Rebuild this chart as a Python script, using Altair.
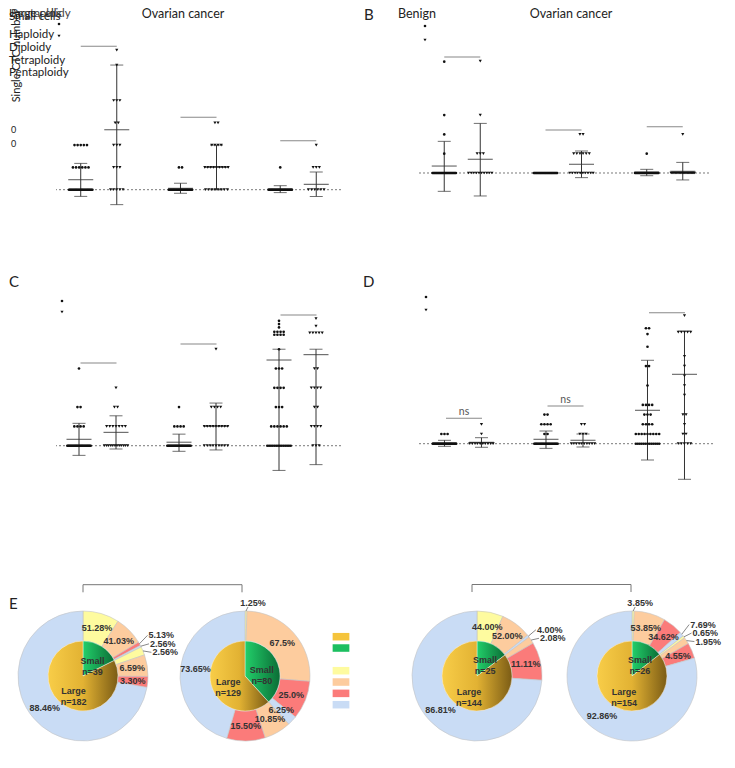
import math
import altair as alt
import pandas as pd

GROUPS = ["Group 1", "Group 2", "Group 3"]
MEMBERS = ["Small cells", "Large cells"]
LEGEND_ITEMS = ["Large cells", "Small cells", "Haploidy", "Diploidy", "Tetraploidy", "Pentaploidy"]
PLOIDY = LEGEND_ITEMS[2:]
COLORS = ["#f5c43c", "#1cbf60", "#fefb9f", "#fdcc9e", "#fb7b7a", "#c9dcf5"]

# ---------------- Panel A (columns: g1 small, g1 large, g2 small, g2 large, g3 small, g3 large)
A_values = [
    [0] * 28 + [1] * 6 + [2] * 5,
    [0] * 5 + [1] * 3 + [2] * 3 + [3] * 2 + [4] * 3 + [5.59, 6.26],
    [0] * 28 + [1] * 2,
    [0] * 8 + [1] * 9 + [2] * 4 + [3] * 2,
    [0] * 28 + [1],
    [0] * 6 + [1] * 3 + [2],
]
A_mean = [0.45, 2.69, 0.06, 1.00, 0.03, 0.24]
A_low = [-0.30, -0.67, -0.16, 0.00, -0.13, -0.30]
A_high = [1.18, 5.59, 0.29, 2.00, 0.18, 0.79]
A_sig = [6.43, 3.25, 2.20]
A_sig_text = ["", "", ""]

# ---------------- Panel B
B_values = [
    [0] * 28 + [1, 2, 3, 5.77],
    [0] * 10 + [1] * 3 + [3, 5.8],
    [0] * 28,
    [0] * 10 + [1] * 6 + [2] * 2,
    [0] * 25 + [1],
    [0] * 25 + [2],
]
B_mean = [0.36, 0.71, 0.00, 0.45, 0.05, 0.09]
B_low = [-0.95, -1.19, 0.00, -0.24, -0.14, -0.36]
B_high = [1.64, 2.57, 0.00, 1.14, 0.19, 0.55]
B_sig = [6.01, 2.23, 2.40]
B_sig_text = ["", "", ""]

# ---------------- Panel C
C_values = [
    [0] * 28 + [1] * 4 + [2] * 2 + [4],
    [0] * 12 + [1] * 7 + [2] * 2 + [3],
    [0] * 28 + [1] * 4 + [2],
    [0] * 9 + [1] * 9 + [2] * 4 + [5],
    [0] * 14 + [1] * 6 + [2] * 3 + [3] * 4 + [4] * 3 + [5] + [5.75] * 4 + [5.9] * 4 + [6.13, 6.3, 6.47],
    [0] * 3 + [1] * 4 + [2] * 2 + [3] * 4 + [4] * 2 + [5.85] * 5 + [6.2, 6.58],
]
C_mean = [0.33, 0.69, 0.18, 1.00, 4.44, 4.72]
C_low = [-0.50, -0.17, -0.29, -0.22, -1.28, -0.98]
C_high = [1.16, 1.55, 0.60, 2.21, 5.00, 5.00]
C_sig = [4.28, 5.27, 6.77]
C_sig_text = ["", "", ""]

# ---------------- Panel D
D_values = [
    [0] * 28 + [1] * 3,
    [0] * 10 + [1, 2],
    [0] * 28 + [1] * 2 + [2] * 4 + [3] * 2,
    [0] * 10 + [1] * 3 + [2] * 2,
    [0] * 13 + [1] * 9 + [2] * 4 + [3] * 3 + [4] * 4 + [6] + [8] * 2 + [10, 11.3] + [11.9] * 2,
    [0] * 5 + [1] * 2 + [2] + [3] * 2 + [5, 6, 7, 8, 9] + [11.5] * 5 + [13.2],
]
D_mean = [0.07, 0.14, 0.45, 0.35, 3.44, 7.15]
D_low = [-0.27, -0.37, -0.48, -0.34, -1.68, -3.67]
D_high = [0.35, 0.62, 1.31, 1.00, 8.60, 11.60]
D_sig = [2.62, 3.89, 13.5]
D_sig_text = ["ns", "ns", ""]

# ---------------- Panel E (pies): percentages per ploidy class [Haploidy, Diploidy, Tetraploidy, Pentaploidy]
PIE_SMALL_N = [39, 80, 25, 26]
PIE_LARGE_N = [182, 129, 144, 154]
PIE_SMALL_PCT = [
    ["51.28", "41.03", "5.13", "2.56"],
    ["1.25", "67.5", "25.0", "6.25"],
    ["44.00", "52.00", "", "4.00"],
    ["3.85", "53.85", "34.62", "7.69"],
]
PIE_LARGE_PCT = [
    ["2.56", "6.59", "3.30", "88.46"],
    ["", "10.85", "15.50", "73.65"],
    ["", "2.08", "11.11", "86.81"],
    ["0.65", "1.95", "4.55", "92.86"],
]

FONT = "Lato"
INK = "#222222"


def spacer(w, h):
    return alt.Chart(pd.DataFrame({"s": [0]})).mark_point(opacity=0).properties(width=w, height=h)


def label(text, x, y, size=11.5, align="left", baseline="middle", angle=0, weight="normal", color=INK, font=FONT):
    return alt.Chart(pd.DataFrame({"t": [text]})).mark_text(
        align=align, baseline=baseline, angle=angle, fontSize=size, fontWeight=weight, color=color, font=font
    ).encode(x=alt.value(x), y=alt.value(y), text="t:N")


def key_symbol(shape, x, y, size):
    return alt.Chart(pd.DataFrame({"k": [shape]})).mark_point(
        shape=shape, filled=True, color="#111", size=size, opacity=1
    ).encode(x=alt.value(x), y=alt.value(y))


def dots_frame(values, quarter):
    rows = []
    for k, vs in enumerate(values):
        g = GROUPS[k // 2]
        m = MEMBERS[k % 2]
        base = -quarter if k % 2 == 0 else quarter
        counts = {}
        for v in vs:
            counts[v] = counts.get(v, 0) + 1
        seen = {}
        for v in vs:
            n = counts[v]
            i = seen.get(v, 0)
            seen[v] = i + 1
            step = 0 if n == 1 else min(3.2, 24.0 / (n - 1))
            rows.append(dict(grp=g, mem=m, v=v, xo=base + (i - (n - 1) / 2) * step))
    return pd.DataFrame(rows)


def dot_panel(values, mean, low, high, sig, sig_text, width, height, ydom, pin, pout, band, extras):
    q = band / 4.0
    xs = alt.X("grp:N", scale=alt.Scale(domain=GROUPS, paddingInner=pin, paddingOuter=pout), axis=None)
    xo_scale = alt.Scale(domain=[-band / 2, band / 2], range=[0, band])
    ysc = alt.Scale(domain=ydom, nice=False, zero=False)
    pts = dots_frame(values, q)
    stats = pd.DataFrame({
        "grp": [GROUPS[k // 2] for k in range(6)],
        "mem": [MEMBERS[k % 2] for k in range(6)],
        "xo": [-q, q] * 3,
        "mean": mean, "low": low, "high": high,
    })
    sigdf = pd.DataFrame({"grp": GROUPS, "s": sig, "t": sig_text})

    baseline = alt.Chart(pd.DataFrame({"v": [0]})).mark_rule(
        color="#555", strokeDash=[2, 2], strokeWidth=0.8
    ).encode(y=alt.Y("v:Q", scale=ysc, axis=None))
    dots = alt.Chart(pts).mark_point(filled=True, color="#111", opacity=1).encode(
        x=xs,
        xOffset=alt.XOffset("xo:Q", scale=xo_scale),
        y=alt.Y("v:Q", scale=ysc, axis=None),
        shape=alt.Shape("mem:N", scale=alt.Scale(domain=MEMBERS, range=["circle", "triangle-down"]), legend=None),
        size=alt.Size("mem:O", scale=alt.Scale(domain=MEMBERS, range=[7, 10]), legend=None),
    )
    sd = alt.Chart(stats).mark_rule(color="#333", strokeWidth=1).encode(
        x=xs, xOffset=alt.XOffset("xo:Q", scale=xo_scale),
        y=alt.Y("low:Q", scale=ysc, axis=None), y2="high:Q",
    )
    cap_lo = alt.Chart(stats).mark_tick(orient="horizontal", size=13, thickness=1, color="#333").encode(
        x=xs, xOffset=alt.XOffset("xo:Q", scale=xo_scale), y=alt.Y("low:Q", scale=ysc, axis=None))
    cap_hi = alt.Chart(stats).mark_tick(orient="horizontal", size=13, thickness=1, color="#333").encode(
        x=xs, xOffset=alt.XOffset("xo:Q", scale=xo_scale), y=alt.Y("high:Q", scale=ysc, axis=None))
    mean_t = alt.Chart(stats).mark_tick(orient="horizontal", size=25, thickness=1.2, color="#333").encode(
        x=xs, xOffset=alt.XOffset("xo:Q", scale=xo_scale), y=alt.Y("mean:Q", scale=ysc, axis=None))
    sig_bar = alt.Chart(sigdf).mark_tick(orient="horizontal", size=36, thickness=1, color="#555").encode(
        x=xs, y=alt.Y("s:Q", scale=ysc, axis=None))
    sig_lab = alt.Chart(sigdf).mark_text(baseline="bottom", dy=-1, fontSize=10.5, font=FONT, color="#555").encode(
        x=xs, y=alt.Y("s:Q", scale=ysc, axis=None), text="t:N")
    return alt.layer(baseline, sd, cap_lo, cap_hi, mean_t, dots, sig_bar, sig_lab, *extras).properties(
        width=width, height=height)


def pie_tables(nS, nL, s_pct, l_pct):
    total = nS + nL
    sdeg = 360.0 * nS / total
    inner = []
    for part, a0, a1, n in [("Small", 0.0, sdeg, nS), ("Large", sdeg, 360.0, nL)]:
        mid = math.radians((a0 + a1) / 2)
        inner.append(dict(part=part, t0=a0, t1=a1, label=f"{part}\nn={n}",
                          lx=18 * math.sin(mid), ly=-18 * math.cos(mid)))
    outer = []
    for a_start, a_end, pcts in [(0.0, sdeg, s_pct), (sdeg, 360.0, l_pct)]:
        vals = [float(p) if p else 0.0 for p in pcts]
        tot = sum(vals)
        a = a_start
        for cat, p, v in zip(PLOIDY, pcts, vals):
            if v <= 0:
                continue
            span = (a_end - a_start) * v / tot
            outer.append(dict(cat=cat, t0=a, t1=a + span, label=p + "%", span=span, mid=a + span / 2))
            a += span
    labs_in, labs_side, labs_top, leaders = [], [], [], []
    side = []
    for r in outer:
        m = math.radians(r["mid"])
        if r["span"] >= 8:
            labs_in.append(dict(label=r["label"], lx=50 * math.sin(m), ly=-50 * math.cos(m)))
        elif r["mid"] < 15:
            ex, ey = 65 * math.sin(m), -65 * math.cos(m)
            labs_top.append(dict(label=r["label"], lx=ex + 7, ly=-73))
            leaders.append(dict(x1=ex, y1=ey, x2=ex + 2, y2=-69))
        else:
            side.append((r, m))
    if side:
        anchors = [(72 * math.sin(m), -72 * math.cos(m)) for r, m in side]
        mean_y = sum(a[1] for a in anchors) / len(anchors)
        n = len(side)
        for i, ((r, m), (ax, ay)) in enumerate(zip(side, anchors)):
            ly = mean_y + (i - (n - 1) / 2) * 8.5
            lx = ax + 3
            labs_side.append(dict(label=r["label"], lx=lx, ly=ly))
            leaders.append(dict(x1=65 * math.sin(m), y1=-65 * math.cos(m), x2=lx - 1, y2=ly))
    return (pd.DataFrame(inner), pd.DataFrame(outer), pd.DataFrame(labs_in),
            pd.DataFrame(labs_side), pd.DataFrame(labs_top), pd.DataFrame(leaders))


GOLD_GRAD = alt.Gradient(gradient="linear", x1=0, y1=0, x2=1, y2=0, stops=[
    alt.GradientStop(color="#f8cd48", offset=0),
    alt.GradientStop(color="#e2b233", offset=0.5),
    alt.GradientStop(color="#7b5c15", offset=1)])
GREEN_GRAD = alt.Gradient(gradient="linear", x1=0, y1=0, x2=1, y2=0, stops=[
    alt.GradientStop(color="#22cf6a", offset=0),
    alt.GradientStop(color="#0b6d36", offset=1)])

PW, PH = 140, 184


def pie_panel(idx, extras):
    inner, outer, labs_in, labs_side, labs_top, leaders = pie_tables(
        PIE_SMALL_N[idx], PIE_LARGE_N[idx], PIE_SMALL_PCT[idx], PIE_LARGE_PCT[idx])
    tsc = alt.Scale(domain=[0, 360], range=[0, 2 * math.pi])
    xq = alt.Scale(domain=[-PW / 2, PW / 2], nice=False, zero=False)
    yq = alt.Scale(domain=[-PH / 2, PH / 2], nice=False, zero=False, reverse=True)
    cat_scale = alt.Scale(domain=LEGEND_ITEMS, range=COLORS)
    ring = alt.Chart(outer).mark_arc(outerRadius=65, innerRadius=35, stroke="#c4c4c4", strokeWidth=0.6).encode(
        theta=alt.Theta("t0:Q", scale=tsc), theta2=alt.Theta2("t1"),
        color=alt.Color("cat:N", scale=cat_scale, legend=None))
    small = alt.Chart(inner[inner.part == "Small"]).mark_arc(
        outerRadius=35, fill=GREEN_GRAD, stroke="#ffffff", strokeWidth=0.4).encode(
        theta=alt.Theta("t0:Q", scale=tsc), theta2=alt.Theta2("t1"))
    large = alt.Chart(inner[inner.part == "Large"]).mark_arc(
        outerRadius=35, fill=GOLD_GRAD, stroke="#ffffff", strokeWidth=0.4).encode(
        theta=alt.Theta("t0:Q", scale=tsc), theta2=alt.Theta2("t1"))
    layers = [ring, small, large]
    if len(leaders):
        layers.append(alt.Chart(leaders).mark_rule(color="#555", strokeWidth=0.7).encode(
            x=alt.X("x1:Q", scale=xq, axis=None), y=alt.Y("y1:Q", scale=yq, axis=None),
            x2="x2:Q", y2="y2:Q"))
    txt = dict(font="Liberation Sans", fontSize=9, fontWeight="bold", color="#333", baseline="middle")
    layers.append(alt.Chart(labs_in).mark_text(align="center", **txt).encode(
        x=alt.X("lx:Q", scale=xq, axis=None), y=alt.Y("ly:Q", scale=yq, axis=None), text="label:N"))
    if len(labs_side):
        layers.append(alt.Chart(labs_side).mark_text(align="left", **txt).encode(
            x=alt.X("lx:Q", scale=xq, axis=None), y=alt.Y("ly:Q", scale=yq, axis=None), text="label:N"))
    if len(labs_top):
        layers.append(alt.Chart(labs_top).mark_text(align="center", **txt).encode(
            x=alt.X("lx:Q", scale=xq, axis=None), y=alt.Y("ly:Q", scale=yq, axis=None), text="label:N"))
    layers.append(alt.Chart(inner).mark_text(align="center", lineBreak="\n", **txt).encode(
        x=alt.X("lx:Q", scale=xq, axis=None), y=alt.Y("ly:Q", scale=yq, axis=None), text="label:N"))
    return alt.layer(*layers, *extras).properties(width=PW, height=PH)


def bracket(x0, x1, y0, y1):
    c = "#777"
    return [
        alt.Chart(pd.DataFrame({"b": [0]})).mark_rule(color=c, strokeWidth=1).encode(
            x=alt.value(x0), x2=alt.value(x1), y=alt.value(y0)),
        alt.Chart(pd.DataFrame({"b": [0]})).mark_rule(color=c, strokeWidth=1).encode(
            x=alt.value(x0), y=alt.value(y0), y2=alt.value(y1)),
        alt.Chart(pd.DataFrame({"b": [0]})).mark_rule(color=c, strokeWidth=1).encode(
            x=alt.value(x1), y=alt.value(y0), y2=alt.value(y1)),
    ]


# ---------------- Row 1
ROW1_H = 267
A_extras = [
    label("Ovarian cancer", 127, 0, size=12.5, align="center", baseline="top"),
    label(LEGEND_ITEMS[0], -47, 0, baseline="top"),
    label(LEGEND_ITEMS[5], -45, 0, baseline="top", color="#444"),
    label(LEGEND_ITEMS[1], -47, 9),
    label(LEGEND_ITEMS[2], -47, 27),
    label(LEGEND_ITEMS[3], -47, 40),
    label(LEGEND_ITEMS[4], -47, 53),
    label(LEGEND_ITEMS[5], -47, 65),
    label("Single CTC number", -39, 48, size=11, align="center", angle=270),
    label("0", -45, 122, size=9),
    label("0", -45, 136, size=9),
    key_symbol("circle", 3, 16, 7),
    key_symbol("triangle-down", 3, 28, 10),
]
panel_A = dot_panel(A_values, A_mean, A_low, A_high, A_sig, A_sig_text, 285, ROW1_H,
                    [-3.825, 8.148], 0.258, 0.0576, 74, A_extras)
B_extras = [
    label("B", -54, 0, size=15, baseline="top"),
    label("Benign", -20, 0, size=12.5, baseline="top"),
    label("Ovarian cancer", 153, 0, size=12.5, align="center", baseline="top"),
    key_symbol("circle", 7, 18, 7),
    key_symbol("triangle-down", 7, 32, 10),
]
panel_B = dot_panel(B_values, B_mean, B_low, B_high, B_sig, B_sig_text, 291, ROW1_H,
                    [-5.285, 8.549], 0.269, 0.0716, 74, B_extras)
row1 = alt.hconcat(spacer(47, ROW1_H), panel_A, spacer(77, ROW1_H), panel_B, spacing=0, bounds="flush")

# ---------------- Row 2
ROW2_H = 309
C_extras = [
    label("C", -47, 0, size=15, baseline="top"),
    key_symbol("circle", 6, 26, 7),
    key_symbol("triangle-down", 6, 37, 10),
]
panel_C = dot_panel(C_values, C_mean, C_low, C_high, C_sig, C_sig_text, 285, ROW2_H,
                    [-7.165, 8.845], 0.24, 0.045, 76, C_extras)
D_extras = [
    label("D", -55, 0, size=15, baseline="top"),
    key_symbol("circle", 8, 22, 7),
    key_symbol("triangle-down", 8, 35, 10),
]
panel_D = dot_panel(D_values, D_mean, D_low, D_high, D_sig, D_sig_text, 295, ROW2_H,
                    [-14.464, 17.392], 0.251, 0.0786, 76, D_extras)
row2 = alt.hconcat(spacer(47, ROW2_H), panel_C, spacer(77, ROW2_H), panel_D, spacing=0, bounds="flush")

# ---------------- Row 3
legend_df = pd.DataFrame({"cat": LEGEND_ITEMS})
legend_panel = alt.Chart(legend_df).mark_point(
    filled=True, shape="M-1,-0.45H1V0.45H-1Z", size=280, opacity=1, strokeWidth=0
).encode(
    x=alt.value(26),
    y=alt.Y("cat:N", scale=alt.Scale(domain=LEGEND_ITEMS[:2] + [" "] + LEGEND_ITEMS[2:],
                                     range=[52.7, 120.7], padding=0), axis=None),
    color=alt.Color("cat:N", scale=alt.Scale(domain=LEGEND_ITEMS, range=COLORS), legend=None),
).properties(width=92, height=PH)

pie1 = pie_panel(0, [label("E", -4, 13, size=15, baseline="top")] + bracket(70, 229, 0.7, 8.3))
pie2 = pie_panel(1, [])
pie3 = pie_panel(2, bracket(65, 224, 0.5, 8))
pie4 = pie_panel(3, [])
row3 = alt.hconcat(spacer(4, PH), pie1, spacer(22, PH), pie2, legend_panel, pie3, spacer(15, PH), pie4,
                   spacing=0, bounds="flush")

chart = alt.vconcat(row1, row2, row3, spacing=0).properties(
    padding={"left": 0, "top": 0, "right": 5, "bottom": 0}
).configure_view(stroke=None)

chart.save("out.html", embed_options={"renderer": "svg", "actions": False})
